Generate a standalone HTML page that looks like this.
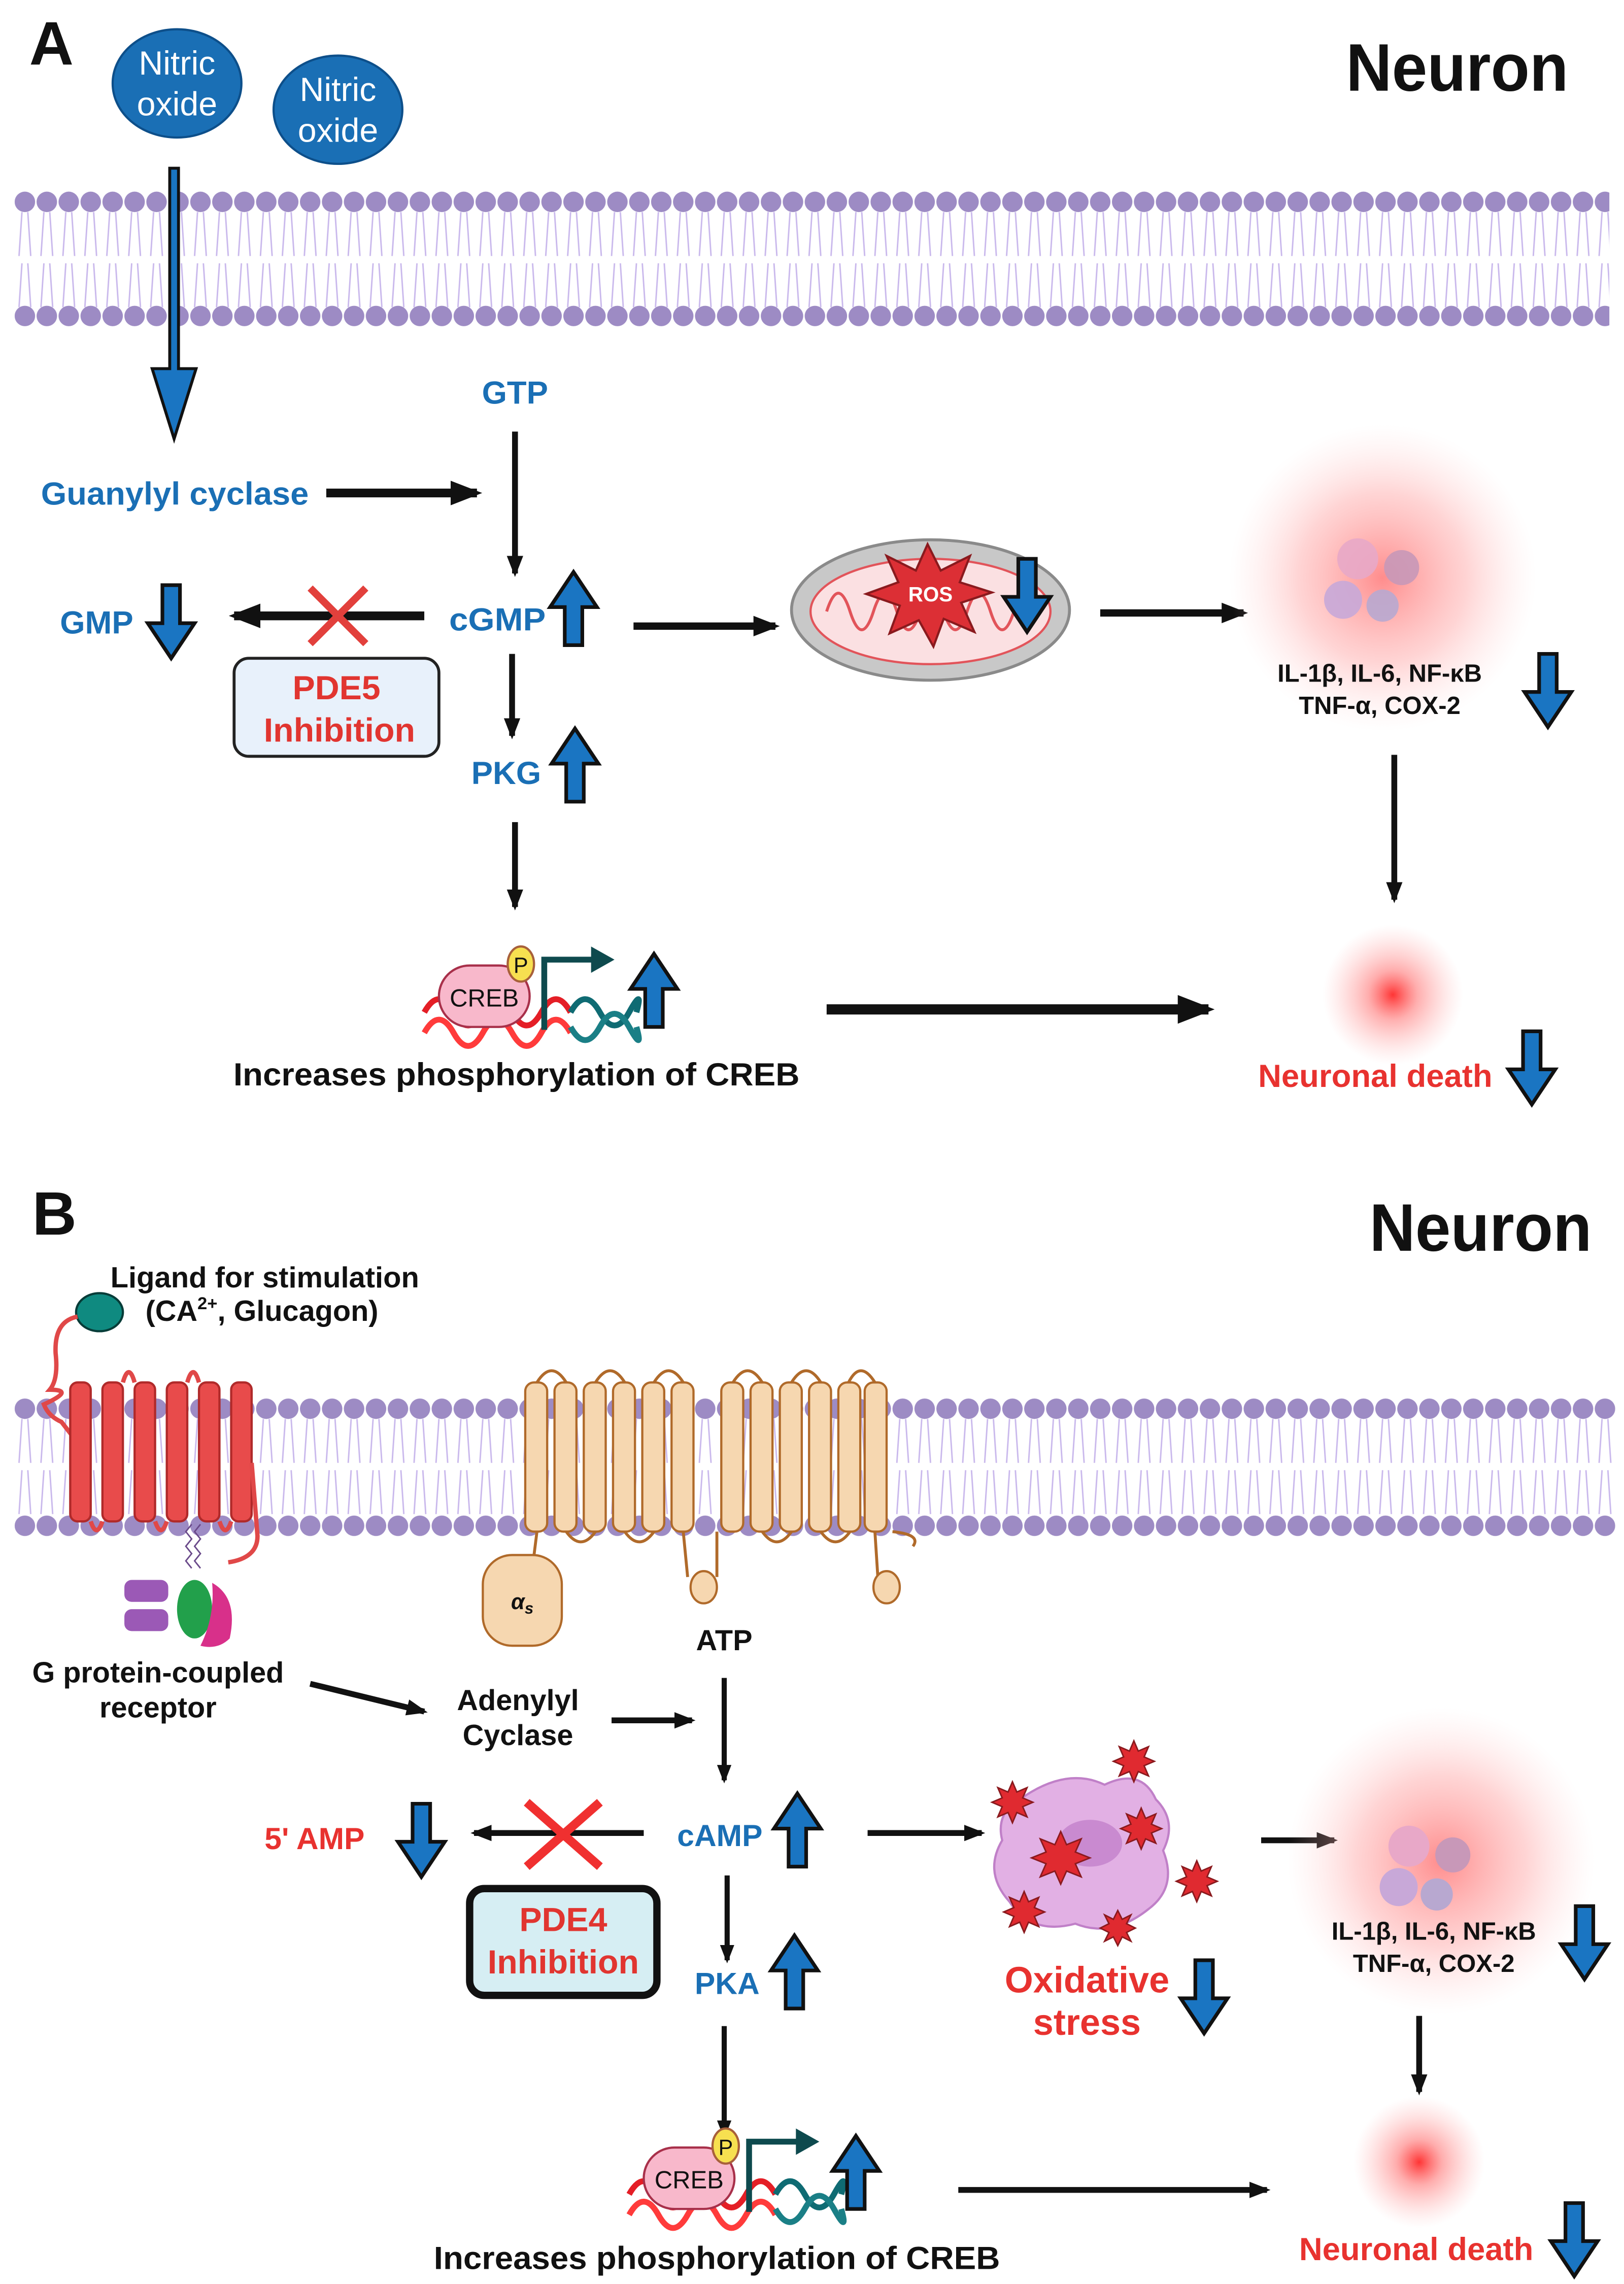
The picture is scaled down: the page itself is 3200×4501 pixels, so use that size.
<!DOCTYPE html>
<html><head><meta charset="utf-8"><style>html,body{margin:0;padding:0;background:#fff}svg{display:block}text{font-family:"Liberation Sans",sans-serif;font-weight:bold}</style></head><body>
<svg width="3200" height="4501" viewBox="0 0 1110 1561.3" xmlns="http://www.w3.org/2000/svg">
<defs>
<marker id="ah" markerWidth="4" markerHeight="4" refX="3" refY="2" orient="auto" markerUnits="strokeWidth"><path d="M0,0.6 L3.6,2 L0,3.4 Z" fill="#111"/></marker>
<path id="dn" d="M-6,-50 L6,-50 L6,-24 L16,-24 L0,0 L-16,-24 L-6,-24 Z" fill="#1a75c2" stroke="#111" stroke-width="2.5" stroke-linejoin="miter"/>
<pattern id="mem" x="10" y="0" width="15" height="1561" patternUnits="userSpaceOnUse">
<g stroke="#c9b8ec" stroke-width="1" fill="none">
<path d="M5,145 L3,175 M9,145 L11,175 M5,180 L3,210 M9,180 L11,210"/>
<path d="M5,970 L3,1000 M9,970 L11,1000 M5,1005 L3,1035 M9,1005 L11,1035"/>
</g>
<circle cx="7" cy="138" r="7" fill="#9d8bc4"/><circle cx="7" cy="216" r="7" fill="#9d8bc4"/>
<circle cx="7" cy="963" r="7" fill="#9d8bc4"/><circle cx="7" cy="1043" r="7" fill="#9d8bc4"/>
</pattern>
<radialGradient id="glow"><stop offset="0" stop-color="#ff2a2a" stop-opacity="0.95"/><stop offset="0.35" stop-color="#ff6b6b" stop-opacity="0.55"/><stop offset="1" stop-color="#ffb0b0" stop-opacity="0"/></radialGradient>
<radialGradient id="glow2"><stop offset="0" stop-color="#ff7070" stop-opacity="0.8"/><stop offset="0.55" stop-color="#ffa0a0" stop-opacity="0.45"/><stop offset="1" stop-color="#ffd0d0" stop-opacity="0"/></radialGradient>
<g id="creb">
<path d="M0,48 q10,-18 20,0 t20,0 t20,0 t20,0 t20,0" stroke="#e41e26" stroke-width="4" fill="none"/>
<path d="M0,66 q10,-18 20,0 t20,0 t20,0 t20,0 t20,0" stroke="#ff3b3b" stroke-width="4" fill="none" transform="translate(0,-4)"/>
<path d="M100,48 q10,-18 20,0 t20,0 t5,0" stroke="#0f6b73" stroke-width="4" fill="none"/>
<path d="M100,62 q10,18 20,0 t20,0 t5,0" stroke="#1a7f86" stroke-width="4" fill="none" transform="translate(0,-4)"/>
<rect x="10" y="16" width="62" height="42" rx="21" fill="#f8b8cb" stroke="#a8304a" stroke-width="1.5"/>
<text x="41" y="44" font-size="17" font-weight="normal" text-anchor="middle" fill="#111" style="font-weight:normal">CREB</text>
<ellipse cx="66" cy="15" rx="9" ry="12" fill="#f7e050" stroke="#a8603a" stroke-width="1.5"/>
<text x="66" y="21" font-size="15" text-anchor="middle" fill="#111" style="font-weight:normal">P</text>
<path d="M82,60 L82,12 L118,12" stroke="#0e4a4e" stroke-width="4" fill="none"/>
<path d="M114,3 L130,12 L114,21 Z" fill="#0e4a4e"/>
</g>
</defs>

<!-- PANEL A -->
<text x="20" y="44" font-size="42" fill="#111">A</text>
<text x="996" y="62" font-size="46" text-anchor="middle" fill="#111" textLength="152" lengthAdjust="spacingAndGlyphs">Neuron</text>
<rect x="10" y="128" width="1090" height="96" fill="url(#mem)"/>
<ellipse cx="121" cy="57" rx="44" ry="37" fill="#1a6fb5" stroke="#0d4f8a" stroke-width="1.5"/>
<text x="121" y="51" font-size="23" fill="#fff" text-anchor="middle" style="font-weight:normal">Nitric</text>
<text x="121" y="79" font-size="23" fill="#fff" text-anchor="middle" style="font-weight:normal">oxide</text>
<ellipse cx="231" cy="75" rx="44" ry="37" fill="#1a6fb5" stroke="#0d4f8a" stroke-width="1.5"/>
<text x="231" y="69" font-size="23" fill="#fff" text-anchor="middle" style="font-weight:normal">Nitric</text>
<text x="231" y="97" font-size="23" fill="#fff" text-anchor="middle" style="font-weight:normal">oxide</text>
<path d="M116,115 L122,115 L122,252 L134,252 L119,300 L104,252 L116,252 Z" fill="#1a75c2" stroke="#111" stroke-width="2"/>

<text x="352" y="276" font-size="22" fill="#1a6fb5" text-anchor="middle">GTP</text>
<line x1="352" y1="295" x2="352" y2="392" stroke="#111" stroke-width="4" marker-end="url(#ah)"/>
<text x="28" y="345" font-size="22" fill="#1a6fb5" textLength="183" lengthAdjust="spacingAndGlyphs">Guanylyl cyclase</text>
<line x1="223" y1="337" x2="326" y2="337" stroke="#111" stroke-width="6" marker-end="url(#ah)"/>
<text x="41" y="433" font-size="22" fill="#1a6fb5">GMP</text>
<use href="#dn" x="117" y="450"/>
<line x1="290" y1="421" x2="160" y2="421" stroke="#111" stroke-width="6" marker-end="url(#ah)"/>
<path d="M212,402 L250,440 M250,402 L212,440" stroke="#e2403c" stroke-width="5"/>
<rect x="160" y="450" width="140" height="67" rx="10" fill="#e8f1fb" stroke="#222" stroke-width="2"/>
<text x="230" y="478" font-size="23" fill="#e13530" text-anchor="middle">PDE5</text>
<text x="232" y="507" font-size="23" fill="#e13530" text-anchor="middle">Inhibition</text>
<text x="307" y="431" font-size="22" fill="#1a6fb5" textLength="66" lengthAdjust="spacingAndGlyphs">cGMP</text>
<use href="#dn" transform="translate(392,391) rotate(180)"/>
<line x1="433" y1="428" x2="530" y2="428" stroke="#111" stroke-width="5" marker-end="url(#ah)"/>
<ellipse cx="636" cy="417" rx="95" ry="48" fill="#c8c8c8" stroke="#8a8a8a" stroke-width="2"/>
<ellipse cx="636" cy="418" rx="82" ry="36" fill="#fbe0e2" stroke="#e2545a" stroke-width="1.5"/>
<path d="M565,418 q8,-25 16,0 q8,25 16,0 q8,-25 16,0 q8,25 16,0 q8,-25 16,0 q8,25 16,0 q8,-25 16,0 q8,25 16,0 q8,-25 16,0" stroke="#e2545a" stroke-width="2" fill="none"/>
<path d="M634,372 L643,390 L663,380 L656,398 L678,405 L657,412 L666,432 L645,423 L638,442 L628,424 L608,433 L615,414 L592,406 L614,398 L606,380 L626,390 Z" fill="#dc2f35" stroke="#8a1a1e" stroke-width="1.5"/>
<text x="636" y="411" font-size="14" fill="#fff" text-anchor="middle">ROS</text>
<use href="#dn" x="702" y="432"/>
<line x1="752" y1="419" x2="850" y2="419" stroke="#111" stroke-width="5" marker-end="url(#ah)"/>
<circle cx="945" cy="395" r="105" fill="url(#glow2)"/>
<circle cx="928" cy="382" r="14" fill="#e8a8c8" opacity="0.9"/><circle cx="958" cy="388" r="12" fill="#c898b8" opacity="0.9"/>
<circle cx="918" cy="410" r="13" fill="#c8a8d8" opacity="0.9"/><circle cx="945" cy="414" r="11" fill="#b8a8d0" opacity="0.9"/>
<text x="943" y="466" font-size="17" fill="#111" text-anchor="middle">IL-1β, IL-6, NF-κB</text>
<text x="943" y="488" font-size="17" fill="#111" text-anchor="middle">TNF-α, COX-2</text>
<use href="#dn" x="1058" y="497"/>
<line x1="953" y1="516" x2="953" y2="615" stroke="#111" stroke-width="4" marker-end="url(#ah)"/>
<circle cx="952" cy="680" r="48" fill="url(#glow)"/>
<text x="940" y="743" font-size="22" fill="#e8322f" text-anchor="middle">Neuronal death</text>
<use href="#dn" x="1047" y="755"/>
<text x="346" y="536" font-size="22" fill="#1a6fb5" text-anchor="middle">PKG</text>
<use href="#dn" transform="translate(393,498) rotate(180)"/>
<line x1="350" y1="447" x2="350" y2="503" stroke="#111" stroke-width="4" marker-end="url(#ah)"/>
<line x1="352" y1="562" x2="352" y2="620" stroke="#111" stroke-width="4" marker-end="url(#ah)"/>
<use href="#creb" x="290" y="644"/>
<use href="#dn" transform="translate(447,652) rotate(180)"/>
<line x1="565" y1="690" x2="826" y2="690" stroke="#111" stroke-width="7" marker-end="url(#ah)"/>
<text x="353" y="742" font-size="22" fill="#111" text-anchor="middle" textLength="387" lengthAdjust="spacingAndGlyphs">Increases phosphorylation of CREB</text>

<!-- PANEL B -->
<text x="22" y="844" font-size="42" fill="#111">B</text>
<text x="1012" y="855" font-size="46" text-anchor="middle" fill="#111" textLength="152" lengthAdjust="spacingAndGlyphs">Neuron</text>
<rect x="10" y="953" width="1094" height="98" fill="url(#mem)"/>
<text x="181" y="880" font-size="20" fill="#111" text-anchor="middle" textLength="211" lengthAdjust="spacingAndGlyphs">Ligand for stimulation</text>
<text x="179" y="903" font-size="20" fill="#111" text-anchor="middle">(CA<tspan font-size="12" dy="-8">2+</tspan><tspan dy="8">, Glucagon)</tspan></text>
<ellipse cx="68" cy="897" rx="16" ry="13" fill="#0f8a80" stroke="#073c38" stroke-width="1.5"/>
<path d="M53,900 q-16,3 -15,25 q2,18 -4,25 q18,0 -4,10 q3,8 12,12 L56,990" stroke="#e04848" stroke-width="3" fill="none"/>
<g fill="#e84b4b" stroke="#b02a2a" stroke-width="1.5">
<rect x="48" y="945" width="14" height="95" rx="5"/><rect x="70" y="945" width="14" height="95" rx="5"/><rect x="92" y="945" width="14" height="95" rx="5"/><rect x="114" y="945" width="14" height="95" rx="5"/><rect x="136" y="945" width="14" height="95" rx="5"/><rect x="158" y="945" width="14" height="95" rx="5"/><rect x="180" y="945" width="14" height="95" rx="5" opacity="0"/>
</g>
<path d="M62,1040 q4,12 8,0 M106,1040 q4,12 8,0 M150,1040 q4,12 8,0 M84,945 q4,-14 8,0 M128,945 q4,-14 8,0 M172,1000 L176,1050 q0,15 -20,18" stroke="#e04848" stroke-width="3" fill="none"/>
<g fill="#f6d7b0" stroke="#b06a2a" stroke-width="1.5">
<rect x="359" y="945" width="15" height="102" rx="6"/><rect x="379" y="945" width="15" height="102" rx="6"/><rect x="399" y="945" width="15" height="102" rx="6"/><rect x="419" y="945" width="15" height="102" rx="6"/><rect x="439" y="945" width="15" height="102" rx="6"/><rect x="459" y="945" width="15" height="102" rx="6"/>
<rect x="493" y="945" width="15" height="102" rx="6"/><rect x="513" y="945" width="15" height="102" rx="6"/><rect x="533" y="945" width="15" height="102" rx="6"/><rect x="553" y="945" width="15" height="102" rx="6"/><rect x="573" y="945" width="15" height="102" rx="6"/><rect x="591" y="945" width="15" height="102" rx="6"/>
</g>
<path d="M367,945 q10,-16 20,0 M407,945 q10,-16 20,0 M447,945 q10,-16 20,0 M501,945 q10,-16 20,0 M541,945 q10,-16 20,0 M580,945 q8,-16 18,0 M387,1047 q10,14 20,0 M427,1047 q10,14 20,0 M521,1047 q10,14 20,0 M561,1047 q10,14 20,0 M467,1047 L470,1078 M490,1047 L490,1078 M598,1047 L600,1078 M610,1047 q20,2 14,10 M367,1047 L365,1063" stroke="#b06a2a" stroke-width="2" fill="none"/>
<ellipse cx="481" cy="1085" rx="9" ry="11" fill="#f6d7b0" stroke="#b06a2a" stroke-width="1.5"/>
<ellipse cx="606" cy="1085" rx="9" ry="11" fill="#f6d7b0" stroke="#b06a2a" stroke-width="1.5"/>
<rect x="330" y="1063" width="54" height="62" rx="20" fill="#f6d7b0" stroke="#b06a2a" stroke-width="1.5"/>
<text x="357" y="1100" font-size="15" fill="#111" text-anchor="middle" style="font-style:italic">α<tspan font-size="11" dy="3">s</tspan></text>
<g>
<rect x="85" y="1080" width="30" height="15" rx="5" fill="#9b59b6"/><rect x="85" y="1100" width="30" height="15" rx="5" fill="#9b59b6"/>
<ellipse cx="133" cy="1100" rx="12" ry="20" fill="#22a04b"/>
<path d="M145,1082 q18,10 12,38 q-8,8 -20,5 q10,-20 8,-43 Z" fill="#d8308a"/>
<path d="M131,1042 l-4,5 l4,5 l-4,5 l4,5 l-4,5 l4,5 M137,1042 l-4,5 l4,5 l-4,5 l4,5 l-4,5 l4,5" stroke="#6a4a8a" stroke-width="1" fill="none"/>
</g>
<text x="108" y="1150" font-size="20" fill="#111" text-anchor="middle" textLength="172" lengthAdjust="spacingAndGlyphs">G protein-coupled</text>
<text x="108" y="1174" font-size="20" fill="#111" text-anchor="middle">receptor</text>
<line x1="212" y1="1151" x2="290" y2="1170" stroke="#111" stroke-width="4" marker-end="url(#ah)"/>
<text x="354" y="1169" font-size="20" fill="#111" text-anchor="middle">Adenylyl</text>
<text x="354" y="1193" font-size="20" fill="#111" text-anchor="middle">Cyclase</text>
<line x1="418" y1="1176" x2="473" y2="1176" stroke="#111" stroke-width="4" marker-end="url(#ah)"/>
<text x="495" y="1128" font-size="20" fill="#111" text-anchor="middle">ATP</text>
<line x1="495" y1="1147" x2="495" y2="1217" stroke="#111" stroke-width="3.5" marker-end="url(#ah)"/>
<text x="492" y="1262" font-size="21" fill="#1a6fb5" text-anchor="middle">cAMP</text>
<use href="#dn" transform="translate(545,1226) rotate(180)"/>
<line x1="440" y1="1253" x2="324" y2="1253" stroke="#111" stroke-width="4" marker-end="url(#ah)"/>
<path d="M360,1232 L410,1276 M410,1232 L360,1276" stroke="#f03030" stroke-width="6"/>
<text x="215" y="1264" font-size="21" fill="#e8322f" text-anchor="middle">5' AMP</text>
<use href="#dn" x="288" y="1283"/>
<rect x="321" y="1291" width="128" height="73" rx="10" fill="#d6eef3" stroke="#111" stroke-width="5"/>
<text x="385" y="1320" font-size="23" fill="#e13530" text-anchor="middle">PDE4</text>
<text x="385" y="1349" font-size="23" fill="#e13530" text-anchor="middle">Inhibition</text>
<text x="497" y="1363" font-size="21" fill="#1a6fb5" text-anchor="middle">PKA</text>
<use href="#dn" transform="translate(543,1323) rotate(180)"/>
<line x1="497" y1="1282" x2="497" y2="1340" stroke="#111" stroke-width="3.5" marker-end="url(#ah)"/>
<line x1="495" y1="1385" x2="495" y2="1460" stroke="#111" stroke-width="3.5" marker-end="url(#ah)"/>
<line x1="593" y1="1253" x2="671" y2="1253" stroke="#111" stroke-width="4" marker-end="url(#ah)"/>
<path d="M700,1228 q30,-20 55,-8 q25,-12 35,10 q15,15 5,35 q10,25 -10,40 q-25,20 -50,10 q-30,8 -45,-15 q-18,-20 -5,-42 q-5,-20 15,-30 Z" fill="#e2b0e4" stroke="#c080c8" stroke-width="1.5"/>
<ellipse cx="745" cy="1260" rx="22" ry="16" fill="#c98ad0"/>
<g fill="#e02a30" stroke="#8a1a1e" stroke-width="1">
<path d="M725,1252 l4,9 l10,-4 l-4,9 l10,4 l-10,4 l4,9 l-10,-4 l-4,9 l-4,-9 l-10,4 l4,-9 l-10,-4 l10,-4 l-4,-9 l10,4 Z"/>
<path d="M775,1190 l3,7 l7,-3 l-3,7 l7,3 l-7,3 l3,7 l-7,-3 l-3,7 l-3,-7 l-7,3 l3,-7 l-7,-3 l7,-3 l-3,-7 l7,3 Z"/>
<path d="M692,1218 l3,7 l7,-3 l-3,7 l7,3 l-7,3 l3,7 l-7,-3 l-3,7 l-3,-7 l-7,3 l3,-7 l-7,-3 l7,-3 l-3,-7 l7,3 Z"/>
<path d="M780,1236 l3,7 l7,-3 l-3,7 l7,3 l-7,3 l3,7 l-7,-3 l-3,7 l-3,-7 l-7,3 l3,-7 l-7,-3 l7,-3 l-3,-7 l7,3 Z"/>
<path d="M818,1272 l3,7 l7,-3 l-3,7 l7,3 l-7,3 l3,7 l-7,-3 l-3,7 l-3,-7 l-7,3 l3,-7 l-7,-3 l7,-3 l-3,-7 l7,3 Z"/>
<path d="M700,1293 l3,7 l7,-3 l-3,7 l7,3 l-7,3 l3,7 l-7,-3 l-3,7 l-3,-7 l-7,3 l3,-7 l-7,-3 l7,-3 l-3,-7 l7,3 Z"/>
<path d="M764,1306 l3,6 l6,-3 l-3,6 l6,3 l-6,3 l3,6 l-6,-3 l-3,6 l-3,-6 l-6,3 l3,-6 l-6,-3 l6,-3 l-3,-6 l6,3 Z"/>
</g>
<text x="743" y="1362" font-size="25" fill="#e8322f" text-anchor="middle">Oxidative</text>
<text x="743" y="1391" font-size="25" fill="#e8322f" text-anchor="middle">stress</text>
<use href="#dn" x="823" y="1390"/>
<line x1="862" y1="1258" x2="912" y2="1258" stroke="#111" stroke-width="4" marker-end="url(#ah)"/>
<circle cx="985" cy="1272" r="105" fill="url(#glow2)"/>
<circle cx="963" cy="1262" r="14" fill="#e8a8c8"/><circle cx="993" cy="1268" r="12" fill="#c898b8"/>
<circle cx="956" cy="1290" r="13" fill="#c8a8d8"/><circle cx="982" cy="1295" r="11" fill="#b8a8d0"/>
<text x="980" y="1326" font-size="17" fill="#111" text-anchor="middle">IL-1β, IL-6, NF-κB</text>
<text x="980" y="1348" font-size="17" fill="#111" text-anchor="middle">TNF-α, COX-2</text>
<use href="#dn" x="1083" y="1353"/>
<line x1="970" y1="1378" x2="970" y2="1430" stroke="#111" stroke-width="4" marker-end="url(#ah)"/>
<circle cx="970" cy="1478" r="45" fill="url(#glow)"/>
<text x="968" y="1545" font-size="22" fill="#e8322f" text-anchor="middle">Neuronal death</text>
<use href="#dn" x="1076" y="1556"/>
<use href="#creb" x="430" y="1452"/>
<use href="#dn" transform="translate(585,1460) rotate(180)"/>
<line x1="655" y1="1497" x2="866" y2="1497" stroke="#111" stroke-width="4" marker-end="url(#ah)"/>
<text x="490" y="1551" font-size="22" fill="#111" text-anchor="middle" textLength="387" lengthAdjust="spacingAndGlyphs">Increases phosphorylation of CREB</text>
</svg>
</body></html>
